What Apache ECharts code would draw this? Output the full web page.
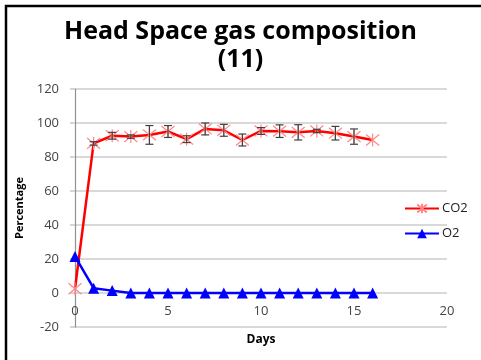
<!DOCTYPE html>
<html>
<head>
<meta charset="utf-8">
<style>
  html, body { margin: 0; padding: 0; background: #fff; }
  #chart { width: 481px; height: 360px; }
</style>
<script src="https://cdn.jsdelivr.net/npm/echarts@6/dist/echarts.min.js"></script>
</head>
<body>
<div id="chart"></div>
<script>
// Head space gas composition over storage days
const days = [0, 1, 2, 3, 4, 5, 6, 7, 8, 9, 10, 11, 12, 13, 14, 15, 16];
const co2 = [2.5, 88, 92.5, 92, 93, 95, 90.5, 96.5, 95.7, 90, 95.3, 95.2, 94.5, 95.3, 94, 92, 90];
const co2Err = [0, 1, 2, 1, 5.5, 3.5, 2, 3.5, 3.5, 3.5, 2, 3.7, 4.5, 1, 4, 4.5, 0];
const o2 = [21.5, 2.8, 1.4, 0, 0, 0, 0, 0, 0, 0, 0, 0, 0, 0, 0, 0, 0];
const xTicks = [0, 5, 10, 15, 20];
const yTicks = [-20, 0, 20, 40, 60, 80, 100, 120];

const co2Points = days.map((d, i) => [d, co2[i]]);
const o2Points = days.map((d, i) => [d, o2[i]]);
const errData = days.map((d, i) => [d, co2[i] - co2Err[i], co2[i] + co2Err[i]]).filter((r, i) => co2Err[i] > 0);

const starPath = 'path://M0,0L10,10M10,0L0,10M5,-1L5,11';

const chart = echarts.init(document.getElementById('chart'), null, { renderer: 'canvas' });

chart.setOption({
  animation: false,
  backgroundColor: '#ffffff',
  title: {
    text: 'Head Space gas composition\n(11)',
    left: 'center',
    top: 13,
    textStyle: {
      fontFamily: 'Open Sans',
      fontWeight: 'bold',
      fontSize: 25,
      lineHeight: 28,
      color: '#000'
    }
  },
  graphic: [{
    type: 'rect',
    shape: { x: 6, y: 6, width: 520, height: 420 },
    style: { fill: 'none', stroke: '#000', lineWidth: 2.5 },
    silent: true
  }],
  legend: {
    orient: 'vertical',
    left: 399,
    top: 197,
    itemWidth: 34,
    itemHeight: 12,
    itemGap: 12,
    textStyle: { fontFamily: 'Open Sans', fontSize: 13, color: '#222', padding: [0, 0, 0, -2] },
    data: ['CO2', 'O2']
  },
  grid: { left: 75, right: 34, top: 89, bottom: 33, outerBoundsMode: 'none', containLabel: false },
  xAxis: {
    type: 'value',
    min: 0,
    max: 20,
    interval: 5,
    name: 'Days',
    nameLocation: 'middle',
    nameGap: 7,
    nameTextStyle: { fontFamily: 'Open Sans', fontWeight: 'bold', fontSize: 12, color: '#000' },
    axisLine: { show: false, onZero: false },
    axisTick: { show: false },
    // tick labels sit just under the zero line, inside the plot
    axisLabel: {
      margin: -22,
      fontFamily: 'Open Sans', fontSize: 13, color: '#444',
      formatter: v => xTicks.includes(v) ? String(v) : ''
    },
    splitLine: { show: false }
  },
  yAxis: {
    type: 'value',
    min: -20,
    max: 120,
    interval: 20,
    name: 'Percentage',
    nameLocation: 'middle',
    nameGap: 49,
    nameTextStyle: { fontFamily: 'Open Sans', fontWeight: 'bold', fontSize: 11, color: '#000' },
    axisLine: { show: true, lineStyle: { color: '#909090', width: 1.2 } },
    axisTick: { show: true, length: 5, lineStyle: { color: '#c8c8c8', width: 1.5 } },
    axisLabel: {
      margin: 16,
      fontFamily: 'Open Sans', fontSize: 13, color: '#444',
      formatter: v => yTicks.includes(v) ? String(v) : ''
    },
    splitLine: { show: true, lineStyle: { color: '#cccccc', width: 1.5 } }
  },
  series: [
    {
      name: 'CO2',
      type: 'line',
      data: co2Points,
      symbol: starPath,
      symbolSize: 13,
      showAllSymbol: true,
      lineStyle: { color: '#ff0000', width: 2.5 },
      itemStyle: { color: '#ff0000', borderColor: '#ff8888', borderWidth: 1.2 },
      z: 3
    },
    {
      name: 'CO2 error',
      type: 'custom',
      data: errData,
      encode: { x: 0, y: [1, 2] },
      renderItem: function (params, api) {
        const x = api.value(0);
        const lo = api.coord([x, api.value(1)]);
        const hi = api.coord([x, api.value(2)]);
        const cap = 4;
        const st = { stroke: '#404040', lineWidth: 1.2 };
        return {
          type: 'group',
          children: [
            { type: 'line', shape: { x1: lo[0], y1: lo[1], x2: hi[0], y2: hi[1] }, style: st },
            { type: 'line', shape: { x1: lo[0] - cap, y1: lo[1], x2: lo[0] + cap, y2: lo[1] }, style: st },
            { type: 'line', shape: { x1: hi[0] - cap, y1: hi[1], x2: hi[0] + cap, y2: hi[1] }, style: st }
          ]
        };
      },
      z: 4
    },
    {
      name: 'O2',
      type: 'line',
      data: o2Points,
      symbol: 'triangle',
      symbolSize: 11,
      showAllSymbol: true,
      lineStyle: { color: '#0000ff', width: 2.5 },
      itemStyle: { color: '#0000ff' },
      z: 3
    }
  ]
});
</script>
</body>
</html>
